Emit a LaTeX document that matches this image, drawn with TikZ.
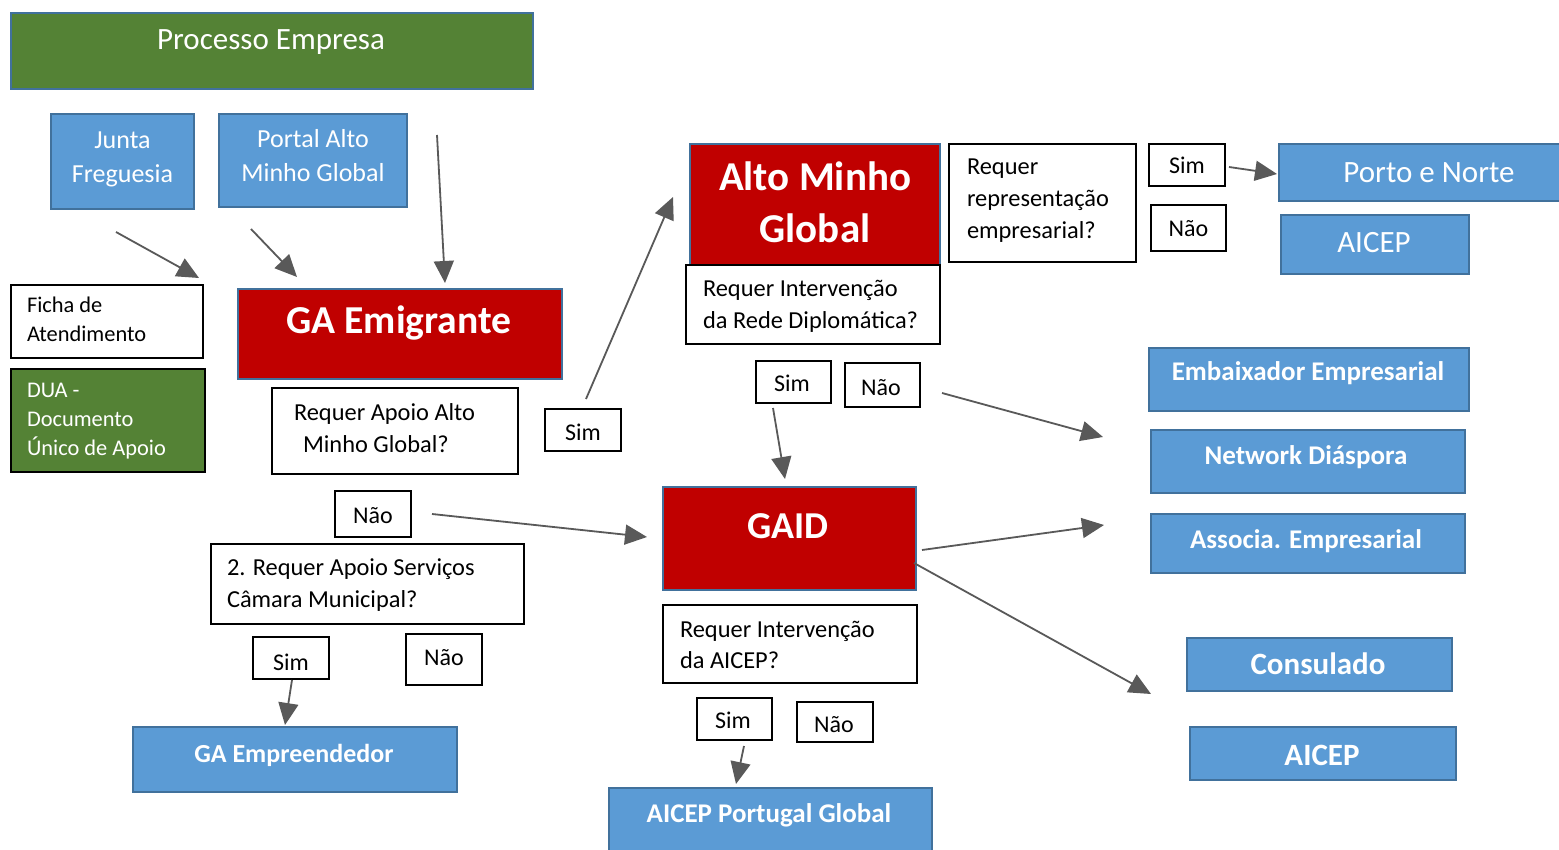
\documentclass[tikz,border=0pt]{standalone}
\usepackage{fontspec}
\setmainfont{Carlito}
\usetikzlibrary{arrows.meta}
\definecolor{bfill}{HTML}{5B9BD5}
\definecolor{bline}{HTML}{41719C}
\definecolor{gfill}{HTML}{548235}
\definecolor{rfill}{HTML}{C00000}
\definecolor{agray}{HTML}{595959}
\newcommand\mybox[6]{\node[#1, minimum width={(#5-#3)*0.5pt}, minimum height={(#6-#4)*0.5pt}] (#2) at ({(#3+#5)/2},{(#4+#6)/2}) {};}
\newcommand\ml[2]{\begin{tabular}[t]{@{}#1@{}}#2\end{tabular}}
\begin{document}
\begin{tikzpicture}[x=0.5pt,y=-0.5pt,
  basebox/.style={rectangle, inner sep=0pt, outer sep=0pt},
  bluebox/.style={basebox, fill=bfill, draw=bline, line width=0.8pt},
  greenbox/.style={basebox, fill=gfill, draw=bline, line width=0.8pt},
  dgreenbox/.style={basebox, fill=gfill, draw=black, line width=1pt},
  redbox/.style={basebox, fill=rfill, draw=bline, line width=0.6pt},
  wbox/.style={basebox, fill=white, draw=black, line width=1pt},
  txt/.style={inner sep=0pt, outer sep=0pt, anchor=base},
  wtxt/.style={txt, text=white},
  ktxt/.style={txt, text=black},
  ltxt/.style={txt, text=black, anchor=base west},
  fproc/.style={font=\fontsize{15.5}{18}\selectfont},
  fblue/.style={font=\fontsize{13}{17}\selectfont},
  fsmall/.style={font=\fontsize{11.2}{14.4}\selectfont},
  fq/.style={font=\fontsize{12.2}{15.6}\selectfont},
  fyn/.style={font=\fontsize{12}{14}\selectfont},
  fbig/.style={font=\fontsize{19.8}{24}\selectfont\bfseries},
  famg/.style={font=\fontsize{20.5}{26}\selectfont\bfseries},
  freg/.style={font=\fontsize{15.5}{18}\selectfont},
  fbb/.style={font=\fontsize{13.5}{16}\selectfont\bfseries},
  fbl/.style={font=\fontsize{15.5}{18}\selectfont\bfseries},
  arr/.style={draw=agray, line width=0.9pt, -{Triangle[length=11pt,width=10pt]}}
]
\useasboundingbox (0,0) rectangle (1559,850);
\clip (0,0) rectangle (1559,850);
\fill[white] (0,0) rectangle (1559,850);

% boxes
\mybox{greenbox}{pe}{11}{13}{533}{89}
\node[wtxt,fproc] (tpe) at (271,50) {Processo Empresa};
\mybox{bluebox}{jf}{51}{114}{194}{209}
\node[wtxt,fblue] (tjf) at (122.5,149) {\ml{c}{Junta\\Freguesia}};
\mybox{bluebox}{pam}{219}{114}{407}{207}
\node[wtxt,fblue] (tpam) at (313,148) {\ml{c}{Portal Alto\\Minho Global}};
\mybox{wbox}{fa}{11}{285}{203}{358}
\node[ltxt,fsmall] (tfa) at (27,313) {\ml{l}{Ficha de\\Atendimento}};
\mybox{dgreenbox}{dua}{11}{369}{205}{472}
\node[ltxt,fsmall,text=white] (tdua) at (27,398) {\ml{l}{DUA -\\Documento\\Único de Apoio}};
\mybox{redbox}{gae}{238}{289}{562}{379}
\node[wtxt,fbig] (tgae) at (399,334) {GA Emigrante};
\mybox{wbox}{q1}{272}{388}{518}{474}
\node[ltxt,fq] (tq1) at (294,421) {\ml{l}{Requer Apoio Alto\\\hspace{4.5pt}Minho Global?}};
\mybox{wbox}{s1}{545}{409}{621}{451}
\node[ktxt,fyn] (ts1) at (583,440) {Sim};
\mybox{wbox}{n1}{335}{491}{411}{537}
\node[ktxt,fyn] (tn1) at (373,523) {Não};
\mybox{wbox}{q2}{211}{544}{524}{624}
\node[ltxt,fq] (tq2) at (227,575) {\ml{l}{2. Requer Apoio Serviços\\[0.4pt]Câmara Municipal?}};
\mybox{wbox}{s2}{253}{637}{329}{679}
\node[ktxt,fyn] (ts2) at (291,670) {Sim};
\mybox{wbox}{n2}{406}{634}{482}{685}
\node[ktxt,fyn] (tn2) at (444,665) {Não};
\mybox{bluebox}{gaemp}{133}{727}{457}{792}
\node[wtxt,font=\fontsize{13}{15}\selectfont\bfseries] (tgaemp) at (294,762) {GA Empreendedor};

\mybox{redbox}{amg}{690}{144}{940}{265}
\node[wtxt,famg] (tamg) at (815,191) {\ml{c}{Alto Minho\\Global}};
\mybox{wbox}{q3}{686}{265}{940}{344}
\node[ltxt,fq] (tq3) at (703,297) {\ml{l}{Requer Intervenção\\da Rede Diplomática?}};
\mybox{wbox}{q4}{949}{144}{1136}{262}
\node[ltxt,fq] (tq4) at (967,175) {\ml{l}{Requer\\[0.2pt]representação\\[0.2pt]empresarial?}};
\mybox{wbox}{s4}{1149}{144}{1225}{186}
\node[ktxt,fyn] (ts4) at (1187,174) {Sim};
\mybox{wbox}{n4}{1151}{205}{1226}{251}
\node[ktxt,fyn] (tn4) at (1188.5,237) {Não};
\mybox{bluebox}{pn}{1279}{144}{1565}{201}
\node[wtxt,freg] (tpn) at (1429,183) {Porto e Norte};
\mybox{bluebox}{aicep1}{1281}{215}{1469}{274}
\node[wtxt,freg] (taicep1) at (1374,253) {AICEP};

\mybox{wbox}{s3}{756}{361}{831}{403}
\node[ktxt,fyn] (ts3) at (792,392) {Sim};
\mybox{wbox}{n3}{845}{363}{920}{407}
\node[ktxt,fyn] (tn3) at (881,395) {Não};
\mybox{bluebox}{emb}{1149}{348}{1469}{411}
\node[wtxt,fbb] (temb) at (1308,380) {Embaixador Empresarial};
\mybox{bluebox}{net}{1151}{430}{1465}{493}
\node[wtxt,fbb] (tnet) at (1306,464) {Network Diáspora};
\mybox{bluebox}{ass}{1151}{514}{1465}{573}
\node[wtxt,fbb] (tass) at (1306,548) {Associa. Empresarial};

\mybox{redbox}{gaid}{663}{487}{916}{590}
\node[wtxt,font=\fontsize{19}{22}\selectfont\bfseries] (tgaid) at (788,538) {GAID};
\mybox{wbox}{q5}{663}{605}{917}{683}
\node[ltxt,fq] (tq5) at (680,637) {\ml{l}{Requer Intervenção\\da AICEP?}};
\mybox{wbox}{s5}{697}{698}{772}{740}
\node[ktxt,fyn] (ts5) at (733,728) {Sim};
\mybox{wbox}{n5}{797}{702}{873}{742}
\node[ktxt,fyn] (tn5) at (834,732) {Não};
\mybox{bluebox}{apg}{609}{788}{932}{856}
\node[wtxt,fbb] (tapg) at (769,822) {AICEP Portugal Global};
\mybox{bluebox}{cons}{1187}{638}{1452}{691}
\node[wtxt,fbl] (tcons) at (1318,674) {Consulado};
\mybox{bluebox}{aicep2}{1190}{727}{1456}{780}
\node[wtxt,fbl] (taicep2) at (1322,765) {AICEP};

% connector end points
\coordinate (a1s) at (116,232);  \coordinate (a1e) at (199,278);
\coordinate (a2s) at (251,229);  \coordinate (a2e) at (297,277);
\coordinate (a3s) at (437,135);  \coordinate (a3e) at (445,283);
\coordinate (a4s) at (586,399);  \coordinate (a4e) at (673,197);
\coordinate (a5s) at (432,514);  \coordinate (a5e) at (647,537);
\coordinate (a6s) at (292,680);  \coordinate (a6e) at (285,725);
\coordinate (a7s) at (1229,167); \coordinate (a7e) at (1277,174);
\coordinate (a8s) at (773,408);  \coordinate (a8e) at (785,479);
\coordinate (a9s) at (942,393);  \coordinate (a9e) at (1103,437);
\coordinate (a10s) at (922,550); \coordinate (a10e) at (1104,525);
\coordinate (a11s) at (914,563); \coordinate (a11e) at (1151,694);
\coordinate (a12s) at (744,746); \coordinate (a12e) at (736,784);

\draw[arr] (a1s) -- (a1e);
\draw[arr] (a2s) -- (a2e);
\draw[arr] (a3s) -- (a3e);
\draw[arr] (a4s) -- (a4e);
\draw[arr] (a5s) -- (a5e);
\draw[arr] (a6s) -- (a6e);
\draw[arr] (a7s) -- (a7e);
\draw[arr] (a8s) -- (a8e);
\draw[arr] (a9s) -- (a9e);
\draw[arr] (a10s) -- (a10e);
\draw[arr] (a11s) -- (a11e);
\draw[arr] (a12s) -- (a12e);
\end{tikzpicture}
\end{document}
